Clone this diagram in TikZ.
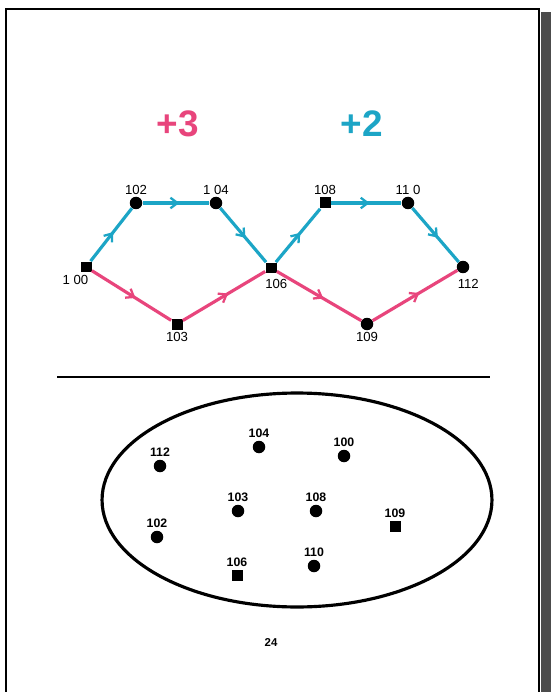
\documentclass[tikz,border=0pt]{standalone}
\usepackage{fontspec}
\setmainfont{Liberation Sans}
\usetikzlibrary{arrows.meta,decorations.markings}
\definecolor{pinkline}{HTML}{E8457C}
\definecolor{cyanline}{HTML}{1CA5C6}

\begin{document}
\begin{tikzpicture}[x=0.02cm,y=-0.02cm,
    sq/.style={rectangle,fill=black,minimum size=0.22cm,inner sep=0pt},
    dot/.style={circle,fill=black,minimum size=0.25cm,inner sep=0pt},
    lbl/.style={font=\fontsize{7.5}{8}\selectfont,inner sep=1pt},
    tiny/.style={font=\fontsize{7}{8}\bfseries\selectfont,inner sep=1.5pt},
    flow/.style={line width=1.8pt,postaction={decorate},
        decoration={markings,mark=at position 0.55 with {\arrow{Straight Barb[length=4pt,width=6pt,line width=1.3pt]}}}}]
    \useasboundingbox (0,0) rectangle (551,692);
    % page frame
    \fill[white] (0,0) rectangle (551,692);
    \fill[black!70] (541,12) rectangle (551,692);
    \draw[line width=1.3pt] (6,700) |- (539,9) -- (539,700);
    % totals
    \node[pinkline,font=\fontsize{21}{24}\bfseries\selectfont] (plus3) at (178,124) {+3};
    \node[cyanline,font=\fontsize{21}{24}\bfseries\selectfont] (plus2) at (362,124) {+2};
    % network
    \node[sq,label={[lbl,xshift=-6pt]below:1 00}] (100) at (86,267) {};
    \node[dot,label={[lbl]above:102}] (102) at (136,203) {};
    \node[dot,label={[lbl]above:1 04}] (104) at (216,203) {};
    \node[sq,label={[lbl,xshift=3pt,yshift=-2pt]below:106}] (106) at (271,268) {};
    \node[sq,label={[lbl]below:103}] (103) at (177,324) {};
    \node[sq,label={[lbl]above:108}] (108) at (325,203) {};
    \node[dot,label={[lbl]above:11 0}] (110) at (408,203) {};
    \node[dot,label={[lbl,xshift=3pt,yshift=-2pt]below:112}] (112) at (463,267) {};
    \node[dot,label={[lbl]below:109}] (109) at (367,324) {};
    \foreach \a/\b in {100/102,102/104,104/106,106/108,108/110,110/112}
        \draw[flow,cyanline] (\a) -- (\b);
    \foreach \a/\b in {100/103,103/106,106/109,109/112}
        \draw[flow,pinkline] (\a) -- (\b);
    \draw[line width=1.1pt] (57,377) -- (490,377);
    % cluster
    \draw[line width=1.8pt] (297,500) ellipse [x radius=3.9cm, y radius=2.14cm];
    \node[dot,label={[tiny]above:112}] (e112) at (160,466) {};
    \node[dot,label={[tiny]above:104}] (e104) at (259,447) {};
    \node[dot,label={[tiny]above:100}] (e100) at (344,456) {};
    \node[dot,label={[tiny]above:103}] (e103) at (238,511) {};
    \node[dot,label={[tiny]above:108}] (e108) at (316,511) {};
    \node[sq,label={[tiny]above:109}] (e109) at (395,526) {};
    \node[dot,label={[tiny]above:102}] (e102) at (157,537) {};
    \node[sq,label={[tiny]above:106}] (e106) at (237,575) {};
    \node[dot,label={[tiny]above:110}] (e110) at (314,566) {};
    \node[font=\fontsize{6.5}{7}\bfseries\selectfont] (page) at (271,643) {24};
\end{tikzpicture}
\end{document}
